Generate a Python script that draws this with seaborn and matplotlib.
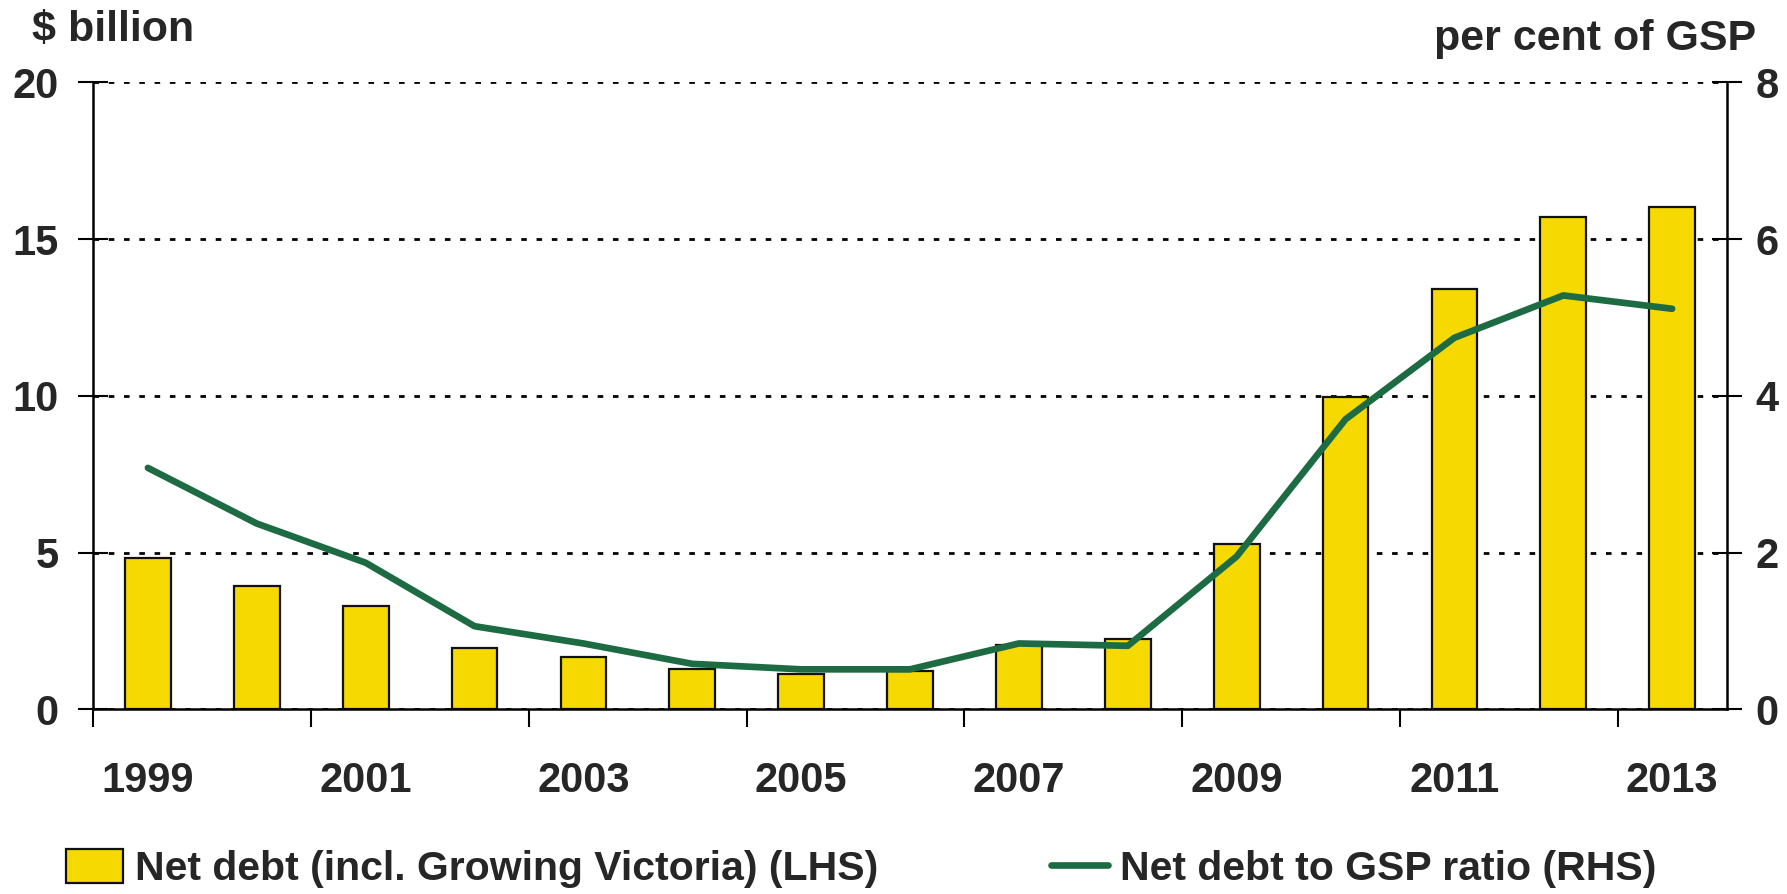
import numpy as np
import matplotlib
matplotlib.use("Agg")
import matplotlib.pyplot as plt
import seaborn as sns

# Dados
anos = ["1999", "2000", "2001", "2002", "2003", "2004", "2005", "2006",
        "2007", "2008", "2009", "2010", "2011", "2012", "2013"]
divida_liquida = [4.82, 3.94, 3.30, 1.97, 1.66, 1.27, 1.14, 1.21,
                  2.04, 2.23, 5.27, 9.95, 13.4, 15.71, 16.03]
razao_gsp = [3.08, 2.37, 1.87, 1.06, 0.84, 0.58, 0.51, 0.51,
             0.84, 0.81, 1.95, 3.70, 4.74, 5.28, 5.11]
rotulos_x = anos[::2]
ticks_esq = [0, 5, 10, 15, 20]
ticks_dir = [0, 2, 4, 6, 8]

sns.set_theme(style="white")
plt.rcParams['font.family'] = ['Liberation Sans', 'DejaVu Sans']
plt.rcParams['font.weight'] = 'bold'

amarelo = "#F5D900"
verde = "#1C6B43"
fs = 30

fig = plt.figure(figsize=(17.87, 8.94), dpi=100)
ax = fig.add_axes([0.0523, 0.2066, 0.9139, 0.7014])

sns.barplot(x=anos, y=divida_liquida, ax=ax, color=amarelo, width=0.42,
            edgecolor="#111111", linewidth=1.6, saturation=1,
            label="Net debt (incl. Growing Victoria) (LHS)")

ax.set_xlim(-0.5, 14.5)
ax.set_ylim(0, 20)
ax.set_yticks(ticks_esq)
ax.set_yticklabels([str(t) for t in ticks_esq], fontsize=fs, fontweight='bold')
ax.yaxis.grid(True, linestyle=(0, (2, 3.5)), color="black", linewidth=2)
ax.xaxis.grid(False)
ax.set_axisbelow(True)

# ticks do eixo x: marcas nas fronteiras, rótulos nas barras
ax.set_xticks(np.arange(-0.5, 14.5, 2))
ax.set_xticklabels([])
ax.set_xticks(range(0, 15, 2), rotulos_x, minor=True)
ax.tick_params(axis='x', which='major', direction='out', length=13, width=1.5,
               color='black', bottom=True)
ax.tick_params(axis='x', which='minor', length=0, pad=37, labelsize=fs)
for t in ax.get_xticklabels(minor=True):
    t.set_fontweight('bold')
ax.tick_params(axis='y', which='major', direction='inout', length=22, width=1.5,
               color='black', left=True, pad=14, labelsize=fs)

for s in ['left', 'bottom']:
    ax.spines[s].set_color('black')
    ax.spines[s].set_linewidth(1.8)
ax.spines['top'].set_visible(False)
ax.spines['right'].set_visible(False)
ax.set_xlabel("")
ax.set_ylabel("")

ax2 = ax.twinx()
sns.lineplot(x=anos, y=razao_gsp, ax=ax2, color=verde, linewidth=4.8,
             sort=False, label="Net debt to GSP ratio (RHS)")
ax2.set_ylim(0, 8)
ax2.set_yticks(ticks_dir)
ax2.set_yticklabels([str(t) for t in ticks_dir], fontsize=fs, fontweight='bold')
ax2.tick_params(axis='y', which='major', direction='inout', length=22, width=1.5,
                color='black', right=True, pad=10, labelsize=fs)
ax2.grid(False)
ax2.spines['right'].set_color('black')
ax2.spines['right'].set_linewidth(1.8)
for s in ['left', 'top', 'bottom']:
    ax2.spines[s].set_visible(False)
ax2.set_ylabel("")
ax2.get_legend().remove()

fig.text(0.018, 0.989, "$ billion", fontsize=fs + 1, fontweight='bold', ha='left', va='top')
fig.text(0.983, 0.979, "per cent of GSP", fontsize=fs + 1, fontweight='bold', ha='right', va='top')

h1, l1 = ax.get_legend_handles_labels()
h2, l2 = ax2.get_legend_handles_labels()
if ax.get_legend() is not None:
    ax.get_legend().remove()
fig.legend(h1 + h2, l1 + l2, loc='lower center', bbox_to_anchor=(0.482, -0.035),
           ncol=2, frameon=False, handlelength=1.4, handleheight=0.9,
           handletextpad=0.3, columnspacing=4.2, prop={'weight': 'bold', 'size': 29.5})

fig.savefig("out.png", dpi=100)
